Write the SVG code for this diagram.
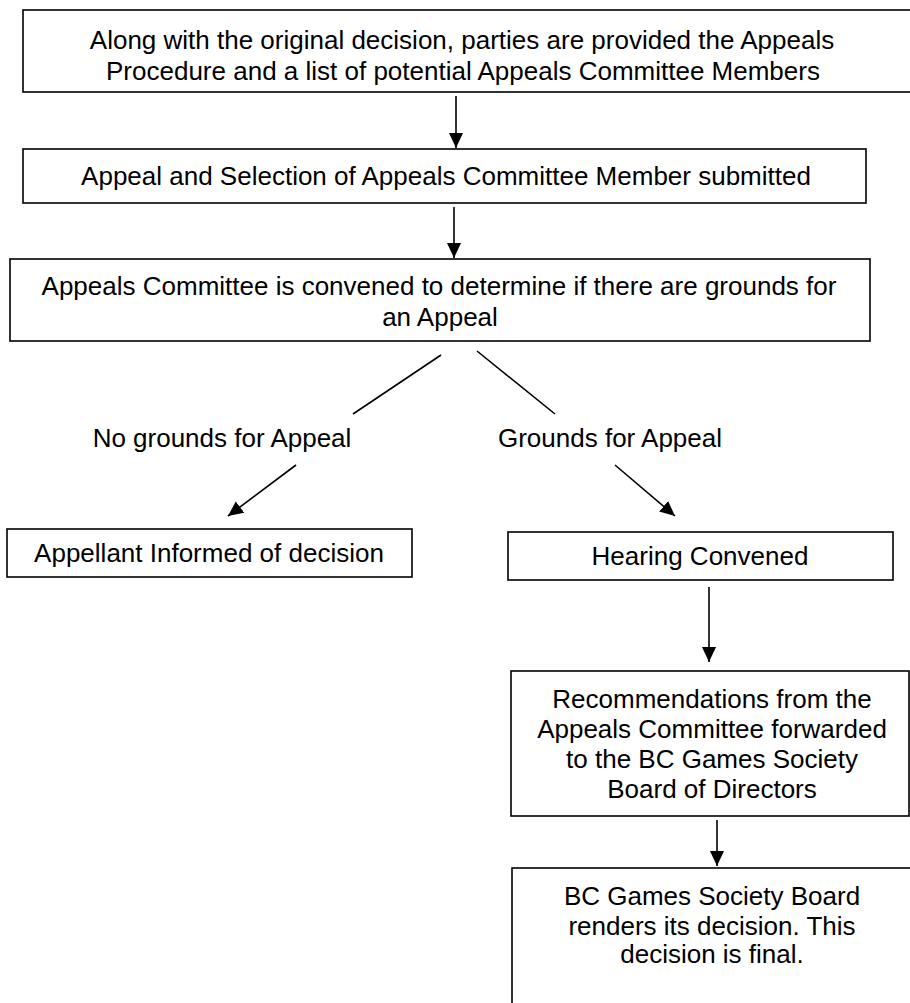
<svg xmlns="http://www.w3.org/2000/svg" width="910" height="1003" viewBox="0 0 910 1003">
<defs>
<marker id="ah" markerUnits="userSpaceOnUse" markerWidth="16" markerHeight="16" refX="15" refY="7" orient="auto">
<path d="M0,0 L15,7 L0,14 z" fill="#000"/>
</marker>
<style>
.box{fill:#fff;stroke:#000;stroke-width:1.6}
.t{font-family:"Liberation Sans",Arial,sans-serif;font-size:26px;fill:#000;text-anchor:middle}
.c{stroke:#000;stroke-width:1.6;fill:none}
.a{marker-end:url(#ah)}
</style>
</defs>
<rect width="910" height="1003" fill="#fff"/>
<g id="n1">
<rect class="box" x="23" y="10" width="910" height="82"/>
<text class="t" x="462" y="49">Along with the original decision, parties are provided the Appeals</text>
<text class="t" x="463" y="80">Procedure and a list of potential Appeals Committee Members</text>
</g>
<g id="n2">
<rect class="box" x="23" y="149" width="843" height="54"/>
<text class="t" x="446" y="185">Appeal and Selection of Appeals Committee Member submitted</text>
</g>
<g id="n3">
<rect class="box" x="10" y="259" width="860" height="82"/>
<text class="t" x="439" y="295">Appeals Committee is convened to determine if there are grounds for</text>
<text class="t" x="440" y="326">an Appeal</text>
</g>
<g id="l1"><text class="t" x="222" y="447">No grounds for Appeal</text></g>
<g id="l2"><text class="t" x="610" y="447">Grounds for Appeal</text></g>
<g id="n4">
<rect class="box" x="7" y="529" width="405" height="48"/>
<text class="t" x="209" y="562">Appellant Informed of decision</text>
</g>
<g id="n5">
<rect class="box" x="508" y="532" width="385" height="48"/>
<text class="t" x="700" y="565">Hearing Convened</text>
</g>
<g id="n6">
<rect class="box" x="511" y="671" width="398" height="145"/>
<text class="t" x="712" y="708">Recommendations from the</text>
<text class="t" x="712" y="738">Appeals Committee forwarded</text>
<text class="t" x="712" y="768">to the BC Games Society</text>
<text class="t" x="712" y="798">Board of Directors</text>
</g>
<g id="n7">
<rect class="box" x="512" y="868" width="420" height="160"/>
<text class="t" x="712" y="905">BC Games Society Board</text>
<text class="t" x="712" y="935">renders its decision. This</text>
<text class="t" x="712" y="963">decision is final.</text>
</g>
<g id="connectors">
<line class="c a" x1="456" y1="96" x2="456" y2="148"/>
<line class="c a" x1="454" y1="207" x2="454" y2="258"/>
<line class="c" x1="441" y1="355" x2="353" y2="414"/>
<line class="c" x1="477" y1="351" x2="555" y2="414"/>
<line class="c a" x1="296" y1="465" x2="228" y2="516"/>
<line class="c a" x1="615" y1="465" x2="675" y2="516"/>
<line class="c a" x1="709" y1="587" x2="709" y2="662"/>
<line class="c a" x1="717" y1="820" x2="717" y2="866"/>
</g>
</svg>
